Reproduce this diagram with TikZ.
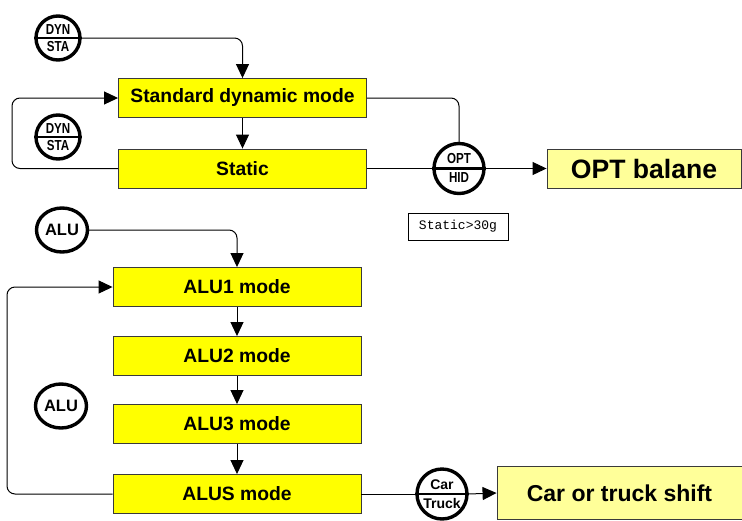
\documentclass[tikz,border=0pt]{standalone}
\usepackage{fontspec}
\setmainfont{Liberation Sans}
\newfontfamily\monofont{Liberation Mono}
\newfontfamily\narrowfont[FakeStretch=0.8]{Liberation Sans}
\usetikzlibrary{arrows.meta,shapes.geometric}

\definecolor{modeyellow}{HTML}{FFFF00}
\definecolor{paleyellow}{HTML}{FFFF99}
\definecolor{edgegray}{HTML}{3A3A3A}

\tikzset{
  modebox/.style={draw=edgegray, line width=0.9pt, fill=modeyellow,
    minimum width=248pt, minimum height=39pt, inner sep=0pt,
    font=\fontsize{19.3}{19.3}\selectfont\bfseries},
  resultbox/.style={draw=edgegray, line width=0.9pt, fill=paleyellow, inner sep=0pt},
  keyring/.style={circle, draw=black, line width=3.4pt, fill=white,
    minimum size=44pt, inner sep=0pt},
  aluring/.style={ellipse, draw=black, line width=3.4pt, fill=white,
    minimum width=51pt, minimum height=44pt, inner sep=0pt,
    font=\fontsize{16.5}{16.5}\selectfont\bfseries},
  keytext/.style={inner sep=0pt, font=\narrowfont\fontsize{14.5}{14.5}\selectfont\bfseries},
  keydivider/.style={draw=black, line width=2.2pt},
  conn/.style={draw=black, line width=1pt, rounded corners=8pt},
  flow/.style={conn, -{Triangle[length=14pt,width=13pt]}},
  notebox/.style={draw=black, line width=0.7pt, inner sep=0pt,
    minimum width=100pt, minimum height=27pt,
    font=\monofont\fontsize{13}{13}\selectfont},
}

\begin{document}
\begin{tikzpicture}[x=1pt, y=-1pt]
  \useasboundingbox (0,0) rectangle (742,520);

  % --- dynamic / static weighing ---
  \node[modebox] (std) at (242.5,98) {Standard dynamic mode};
  \node[modebox] (static) at (242.5,168.5) {Static};

  \node[keyring] (dyn1) at (58,38) {};
  \draw[keydivider] (dyn1.west) -- (dyn1.east);
  \node[keytext] (dyn1a) at ([yshift=8.5pt]dyn1.center) {DYN};
  \node[keytext] (dyn1b) at ([yshift=-9pt]dyn1.center) {STA};

  \node[keyring] (dyn2) at (58,137) {};
  \draw[keydivider] (dyn2.west) -- (dyn2.east);
  \node[keytext] (dyn2a) at ([yshift=8.5pt]dyn2.center) {DYN};
  \node[keytext] (dyn2b) at ([yshift=-9pt]dyn2.center) {STA};

  \node[keyring, minimum size=50pt] (opt) at (459,168.5) {};
  \draw[keydivider] (opt.west) -- (opt.east);
  \node[keytext] (opta) at ([yshift=9.5pt]opt.center) {OPT};
  \node[keytext] (optb) at ([yshift=-9.5pt]opt.center) {HID};

  \node[resultbox, minimum width=194pt, minimum height=39pt,
        font=\fontsize{26.6}{26.6}\selectfont\bfseries] (optbox) at (644,168.5) {OPT balane};

  \node[notebox] (note) at (458,226.5) {Static>30g};

  \coordinate (dynloop) at (12,130);
  \draw[flow] (dyn1.east) -| (std.north);
  \draw[flow] (std.south) -- (static.north);
  \draw[flow] (static.west) -| (dynloop) |- (std.west);
  \draw[conn] (std.east) -| (opt.north);
  \draw[conn] (static.east) -- (opt.west);
  \draw[flow] (opt.east) -- (optbox.west);

  % --- ALU modes ---
  \node[modebox] (alu1) at (237,287) {ALU1 mode};
  \node[modebox] (alu2) at (237,356) {ALU2 mode};
  \node[modebox] (alu3) at (237,424) {ALU3 mode};
  \node[modebox] (alus) at (237,494) {ALUS mode};

  \node[aluring] (alukey1) at (62,230) {ALU};
  \node[aluring] (alukey2) at (61,406) {ALU};

  \node[keyring, minimum size=50pt] (car) at (442,494) {};
  \draw[keydivider] (car.west) -- (car.east);
  \node[keytext, font=\fontsize{14}{14}\selectfont\bfseries] (cara) at ([yshift=9pt]car.center) {Car};
  \node[keytext, font=\fontsize{14}{14}\selectfont\bfseries] (carb) at ([yshift=-9.5pt]car.center) {Truck};

  \node[resultbox, minimum width=245pt, minimum height=53pt,
        font=\fontsize{23}{23}\selectfont\bfseries] (carbox) at (619.5,493) {Car or truck shift};

  \coordinate (aluloop) at (7,390);
  \draw[flow] (alukey1.east) -| (alu1.north);
  \draw[flow] (alu1.south) -- (alu2.north);
  \draw[flow] (alu2.south) -- (alu3.north);
  \draw[flow] (alu3.south) -- (alus.north);
  \draw[flow] (alus.west) -| (aluloop) |- (alu1.west);
  \draw[conn] (alus.east) -- (car.west);
  \draw[flow] (car.east) -- (carbox.west);
\end{tikzpicture}
\end{document}
